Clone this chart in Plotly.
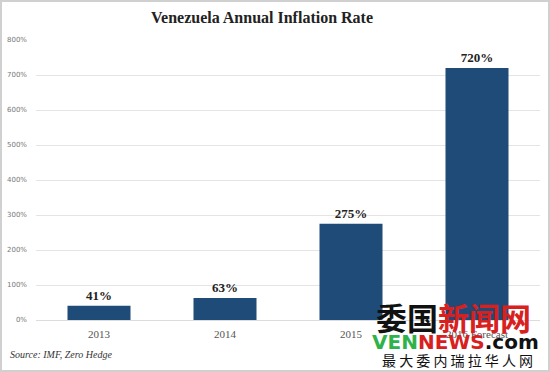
import plotly.graph_objects as go

categories = ["2013", "2014", "2015", "2016 Forecast"]
inflation = [41, 63, 275, 720]
bar_labels = ["41%", "63%", "275%", "720%"]
y_ticks = [0, 100, 200, 300, 400, 500, 600, 700, 800]
y_tick_labels = [f"{v}%" for v in y_ticks]

W, H = 550, 372
ml, mr, mt, mb = 36, 10, 40, 52
pw, ph = W - ml - mr, H - mt - mb

fig = go.Figure()
fig.add_trace(go.Bar(
    x=categories, y=inflation,
    marker=dict(color="#1f4b78", line=dict(width=0)),
    width=0.5,
    text=["<b>" + t + "</b>" for t in bar_labels], textposition="outside",
    textfont=dict(family="Liberation Serif", size=13, color="#222222"),
    cliponaxis=False,
))

fig.update_layout(
    width=W, height=H,
    margin=dict(l=ml, r=mr, t=mt, b=mb, autoexpand=False),
    paper_bgcolor="white", plot_bgcolor="white",
    showlegend=False,
    title=dict(text="<b>Venezuela Annual Inflation Rate</b>", x=262 / W, xanchor="center",
               y=1 - 17 / H, yanchor="middle",
               font=dict(family="Liberation Serif", size=16, color="#222222")),
    xaxis=dict(showgrid=False, showline=False, ticks="", automargin=False,
               ticklabelstandoff=6,
               tickfont=dict(family="Liberation Serif", size=11, color="#555555")),
    yaxis=dict(range=[0, 800], tickvals=y_ticks, ticktext=y_tick_labels,
               showgrid=True, gridcolor="#e4e4e4", gridwidth=1,
               zeroline=True, zerolinecolor="#dcdcdc", zerolinewidth=1,
               showline=False, ticks="", ticklabelstandoff=8, automargin=False,
               tickfont=dict(family="DejaVu Sans", size=7, color="#777777")),
    bargap=0.5,
)

# frame border around the picture
fig.add_shape(type="rect", xref="paper", yref="paper",
              x0=-(ml - 1) / pw, x1=1 + (mr - 1) / pw,
              y0=-(mb - 1) / ph, y1=1 + (mt - 1) / ph,
              line=dict(color="#d0d0d0", width=2), layer="below")

# source note
fig.add_annotation(text="<i>Source: IMF, Zero Hedge</i>", xref="paper", yref="paper",
                   x=-(ml - 8) / pw, y=-(354 - (mt + ph)) / ph, xanchor="left", yanchor="middle",
                   showarrow=False,
                   font=dict(family="Liberation Serif", size=10, color="#333333"))

# watermark
def px(x):
    return (x - ml) / pw

def py(y):
    return (mt + ph - y) / ph

fig.add_annotation(text="<b>委国</b><b><span style='color:#d8201e'>新闻网</span></b>",
                   xref="paper", yref="paper", x=px(453), y=py(316),
                   xanchor="center", yanchor="middle", showarrow=False,
                   font=dict(family="Noto Sans CJK SC", size=31, color="#111111"))
fig.add_annotation(text="<b><span style='color:#2fb24a'>VEN</span><span style='color:#d8201e'>NEWS</span>.com</b>",
                   xref="paper", yref="paper", x=px(455), y=py(342),
                   xanchor="center", yanchor="middle", showarrow=False,
                   font=dict(family="DejaVu Sans", size=20, color="#111111"))
fig.add_annotation(text="最 大 委 内 瑞 拉 华 人 网",
                   xref="paper", yref="paper", x=px(457), y=py(360),
                   xanchor="center", yanchor="middle", showarrow=False,
                   font=dict(family="Noto Sans CJK SC", size=14, color="#111111"))

fig.write_html("out.html", config={"displayModeBar": False},
               post_script="document.body.style.margin='0';")
